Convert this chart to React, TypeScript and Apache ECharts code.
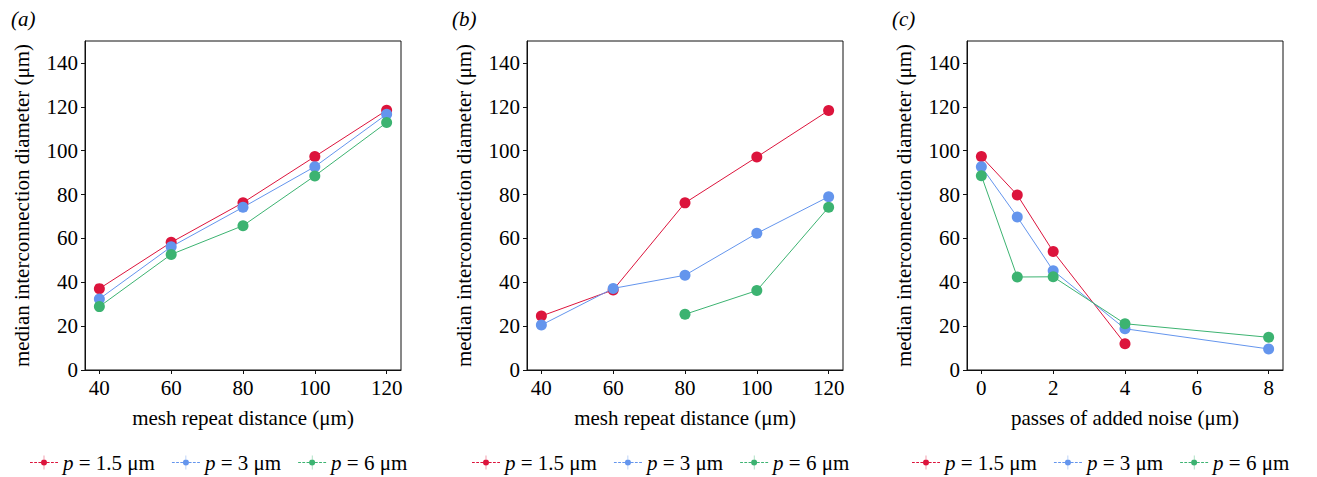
import React, { useEffect, useRef } from "react";
import * as echarts from "echarts";

// ---------- data ----------
const seriesNames = ["p = 1.5 μm", "p = 3 μm", "p = 6 μm"];
const seriesColors = ["#DC143C", "#6495ED", "#3CB371"];

const xA = [40, 60, 80, 100, 120];
const aRed = [37.1, 58.2, 76.3, 97.3, 118.4];
const aBlue = [32.4, 56.2, 74.2, 92.7, 116.6];
const aGreen = [28.9, 52.7, 65.8, 88.5, 112.8];

const xB = [40, 60, 80, 100, 120];
const bRed = [24.6, 36.5, 76.2, 97.1, 118.3];
const bBlue = [20.5, 37.2, 43.2, 62.3, 79.0];
const bGreen = [null, null, 25.4, 36.2, 74.2];

const xC = [0, 1, 2, 4, 8];
const cRed = [97.3, 79.8, 54.0, 12.0, null];
const cBlue = [92.7, 69.8, 45.3, 18.8, 9.6];
const cGreen = [88.6, 42.4, 42.5, 21.1, 14.9];

const yTicks = [0, 20, 40, 60, 80, 100, 120, 140];
const xTicksAB = [40, 60, 80, 100, 120];
const xTicksC = [0, 2, 4, 6, 8];

const panelLabels = ["(a)", "(b)", "(c)"];
const xNames = ["mesh repeat distance (μm)", "mesh repeat distance (μm)", "passes of added noise (μm)"];
const yName = "median interconnection diameter (μm)";

// ---------- helpers ----------
const FONT = "Liberation Serif";
const FS = 21;

function pairs(xs: number[], ys: (number | null)[]) {
  const out: number[][] = [];
  xs.forEach((x, i) => {
    const y = ys[i];
    if (y !== null && y !== undefined) out.push([x, y]);
  });
  return out;
}

const legendIcon =
  "path://M0 6.5h2.8v1h-2.8z M4.2 6.5h2.8v1h-2.8z M8.4 6.5h2.6v1h-2.6z " +
  "M17 6.5h2.6v1h-2.6z M21 6.5h2.8v1h-2.8z M25.2 6.5h2.8v1h-2.8z " +
  "M13.8 0h0.4v14h-0.4z M17 7A3 3 0 1 1 11 7A3 3 0 1 1 17 7z";

export default function App() {
  const ref = useRef<HTMLDivElement>(null);

  useEffect(() => {
    if (!ref.current) return;
    const chart = echarts.init(ref.current, undefined, { renderer: "svg" });

    const gridLefts = [85, 527, 967];
    const legendLefts = [25, 467, 907];
    const titleLefts = [6, 447, 887];
    const xRanges = [
      [36, 124],
      [36, 124],
      [-0.4, 8.4],
    ];
    const xTickSets = [xTicksAB, xTicksAB, xTicksC];
    const panelData = [
      [pairs(xA, aRed), pairs(xA, aBlue), pairs(xA, aGreen)],
      [pairs(xB, bRed), pairs(xB, bBlue), pairs(xB, bGreen)],
      [pairs(xC, cRed), pairs(xC, cBlue), pairs(xC, cGreen)],
    ];

    const txt = { fontFamily: FONT, fontSize: FS, color: "#000", fontWeight: "normal" };

    const grid = gridLefts.map((l) => ({
      left: l,
      top: 41,
      width: 316,
      height: 329,
      show: true,
      borderColor: "#111",
      borderWidth: 1,
      containLabel: false,
    }));

    const xAxis = gridLefts.map((_, i) => ({
      type: "value",
      gridIndex: i,
      min: xRanges[i][0],
      max: xRanges[i][1],
      name: xNames[i],
      nameLocation: "middle",
      nameGap: 37,
      nameTextStyle: { ...txt },
      axisLine: { show: true, onZero: false, lineStyle: { color: "#111", width: 1 } },
      axisTick: {
        show: true,
        length: 4,
        customValues: xTickSets[i],
        lineStyle: { color: "#111", width: 1 },
      },
      axisLabel: {
        customValues: xTickSets[i],
        margin: 7,
        ...txt,
      },
      splitLine: { show: false },
    }));

    const yAxis = gridLefts.map((_, i) => ({
      type: "value",
      gridIndex: i,
      min: 0,
      max: 150,
      name: yName,
      nameLocation: "middle",
      nameRotate: 90,
      nameGap: 53,
      nameTextStyle: { ...txt },
      axisLine: { show: true, onZero: false, lineStyle: { color: "#111", width: 1 } },
      axisTick: {
        show: true,
        length: 4,
        customValues: yTicks,
        lineStyle: { color: "#111", width: 1 },
      },
      axisLabel: {
        customValues: yTicks,
        margin: 7,
        ...txt,
      },
      splitLine: { show: false },
    }));

    const series: any[] = [];
    panelData.forEach((sets, p) => {
      sets.forEach((d, s) => {
        series.push({
          type: "line",
          name: seriesNames[s],
          xAxisIndex: p,
          yAxisIndex: p,
          data: d,
          symbol: "circle",
          symbolSize: 11,
          showSymbol: true,
          itemStyle: { color: seriesColors[s] },
          lineStyle: { color: seriesColors[s], width: 1 },
          emphasis: { disabled: true },
        });
      });
    });

    const legend = legendLefts.map((l) => ({
      left: l,
      top: 447,
      orient: "horizontal",
      data: seriesNames,
      icon: legendIcon,
      itemWidth: 28,
      itemHeight: 14,
      itemGap: 17,
      selectedMode: false,
      itemStyle: { borderWidth: 0 },
      formatter: (name: string) => "{i|p}" + name.slice(1),
      textStyle: {
        ...txt,
        rich: {
          i: { ...txt, fontStyle: "italic" },
        },
      },
    }));

    const title = titleLefts.map((l, i) => ({
      text: panelLabels[i],
      left: l,
      top: 3,
      textStyle: { ...txt, fontStyle: "italic" },
    }));

    chart.setOption({
      animation: false,
      backgroundColor: "#fff",
      textStyle: { fontFamily: FONT, fontSize: FS },
      title,
      legend,
      grid,
      xAxis,
      yAxis,
      series,
    } as any);

    return () => chart.dispose();
  }, []);

  return (
    <div
      ref={ref}
      style={{ position: "fixed", left: 0, top: 0, width: 1317, height: 477 }}
    />
  );
}
